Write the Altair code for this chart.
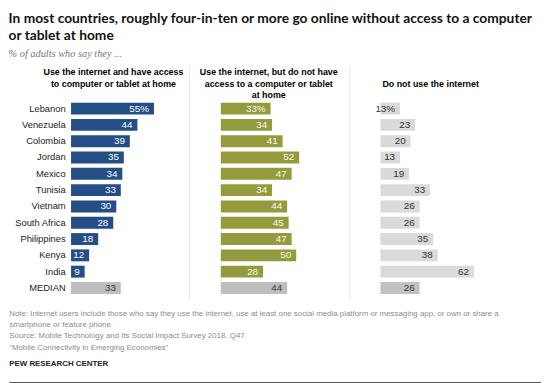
import altair as alt
import pandas as pd

countries = ["Lebanon", "Venezuela", "Colombia", "Jordan", "Mexico", "Tunisia",
             "Vietnam", "South Africa", "Philippines", "Kenya", "India", "MEDIAN"]
have_access = [55, 44, 39, 35, 34, 33, 30, 28, 18, 12, 9, 33]
no_access = [33, 34, 41, 52, 47, 34, 44, 45, 47, 50, 28, 44]
no_internet = [13, 23, 20, 13, 19, 33, 26, 26, 35, 38, 62, 26]

title_lines = ["In most countries, roughly four-in-ten or more go online without access to a computer",
               "or tablet at home"]
subtitle_text = "% of adults who say they ..."
headers = [
    ["Use the internet and have access", "to computer or tablet at home", " "],
    ["Use the internet, but do not have", "access to a computer or tablet", "at home"],
    [" ", "Do not use the internet", " "],
]
note_lines = [
    "Note: Internet users include those who say they use the internet, use at least one social media platform or messaging app, or own or share a",
    "smartphone or feature phone.",
    "Source: Mobile Technology and Its Social Impact Survey 2018. Q47.",
    "\u201cMobile Connectivity in Emerging Economies\u201d",
]
org_name = "PEW RESEARCH CENTER"

fields = {"have": have_access, "noaccess": no_access, "nonet": no_internet}
df = pd.DataFrame({"country": countries, **fields})
for f, vals in fields.items():
    df[f + "_label"] = [f"{v}%" if i == 0 else f"{v}" for i, v in enumerate(vals)]

K = 1.53          # px per percentage point
H = 198.6
SPACING = 40
WIDTHS = [112, 121.3, 140]
SANS = "Liberation Sans"
LEFT = -62.7
RULE_TOP = -35


def footer_layers():
    out = []
    note_y = [H + 18.0, H + 29.7, H + 41.0, H + 52.2]
    for txt, yv in zip(note_lines, note_y):
        out.append(
            alt.Chart(pd.DataFrame({"t": [txt]})).mark_text(
                align="left", baseline="middle", fontSize=8, font=SANS, color="#8c8c8c"
            ).encode(x=alt.value(LEFT), y=alt.value(yv), text="t:N")
        )
    out.append(
        alt.Chart(pd.DataFrame({"t": [org_name]})).mark_text(
            align="left", baseline="middle", fontSize=8, font=SANS, fontWeight="bold", color="#222222"
        ).encode(x=alt.value(LEFT), y=alt.value(H + 68.5), text="t:N")
    )
    out.append(
        alt.Chart(pd.DataFrame({"d": [0]})).mark_rule(color="#555555", strokeWidth=1.5).encode(
            x=alt.value(LEFT), x2=alt.value(477), y=alt.value(H + 88)
        )
    )
    return out


def panel(field, width, color, median_color, text_color, header, dx, show_axis, divider_x, divider_color):
    is_median = alt.datum.country == "MEDIAN"
    if show_axis:
        yaxis = alt.Axis(title=None, ticks=False, domain=False, grid=False, labelPadding=6,
                         labelFontSize=9.5, labelFont=SANS, labelColor="#222")
    else:
        yaxis = None
    y = alt.Y("country:N", sort=countries, axis=yaxis,
              scale=alt.Scale(paddingInner=0.27, paddingOuter=0.135))
    x = alt.X(f"{field}:Q", scale=alt.Scale(domain=[0, width / K]), axis=None)
    base = alt.Chart(df)
    bars = base.mark_bar().encode(
        x=x, y=y,
        color=alt.condition(is_median, alt.value(median_color), alt.value(color)),
    )
    labels = base.mark_text(align="right", baseline="middle", dx=-5, fontSize=10, font=SANS).encode(
        x=x, y=y, text=f"{field}_label:N",
        color=alt.condition(is_median, alt.value("#333333"), alt.value(text_color)),
    )
    rule = alt.Chart(pd.DataFrame({"d": [0]})).mark_rule(color=divider_color, strokeWidth=1).encode(
        x=alt.value(divider_x), y=alt.value(RULE_TOP), y2=alt.value(H + 4)
    )
    layers = [rule, bars, labels]
    if show_axis:
        layers += footer_layers()
    return alt.layer(*layers).properties(
        width=width, height=H,
        title=alt.TitleParams(text=header, anchor="middle", dx=dx, dy=35, fontSize=9, font=SANS,
                              fontWeight="bold", color="#000000", lineHeight=11.5,
                              offset=0, frame="group"),
    )


p1 = panel("have", WIDTHS[0], "#234e86", "#bebebe", "#ffffff", headers[0], -13, True, 0, "transparent")
p2 = panel("noaccess", WIDTHS[1], "#959b3c", "#bebebe", "#fbfbef", headers[1], -12, False, -32, "#e6e6e6")
p3 = panel("nonet", WIDTHS[2], "#dadada", "#c2c2c2", "#333333", headers[2], -19, False, -31, "#e6e6e6")

chart = alt.hconcat(p1, p2, p3, spacing=SPACING, bounds="flush").properties(
    title=alt.TitleParams(
        text=title_lines, subtitle=subtitle_text, anchor="start", frame="bounds",
        font="Liberation Sans Narrow, Lato", fontSize=14, fontWeight="bold", color="#111111",
        lineHeight=18, subtitleFont="Liberation Serif", subtitleFontStyle="italic",
        subtitleFontSize=10.5, subtitleColor="#777777", subtitlePadding=6, offset=6,
    ),
    padding={"left": 0, "top": 1, "right": 0, "bottom": 0},
).configure_view(stroke=None)

chart.save("out.html", embed_options={"renderer": "svg", "actions": False})
